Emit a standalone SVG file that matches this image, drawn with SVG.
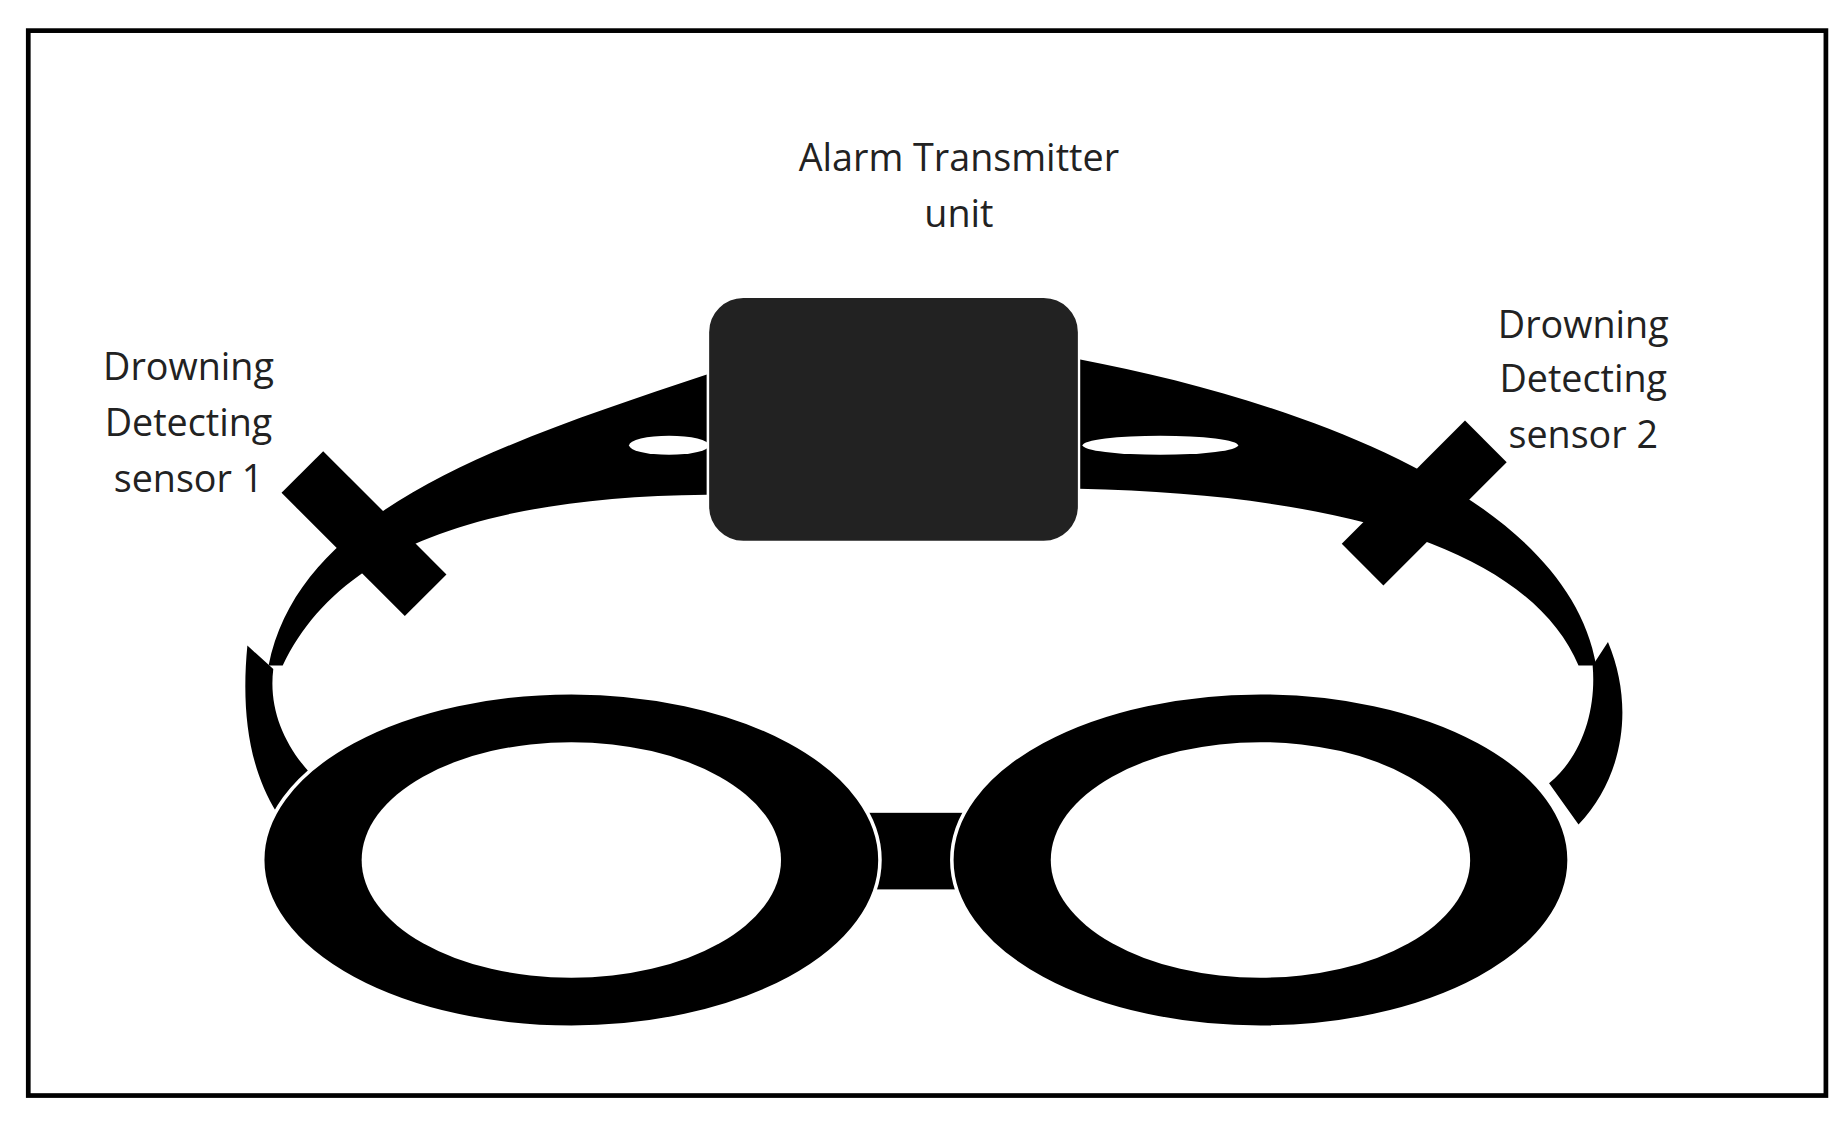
<svg xmlns="http://www.w3.org/2000/svg" width="1847" height="1127" viewBox="0 0 1847 1127">
<style>
.t{font-family:"Open Sans","Liberation Sans",sans-serif;font-size:32px;fill:#222;text-anchor:middle}
.b{fill:#000}
</style>
<rect width="1847" height="1127" fill="#fff"/>
<g transform="scale(1.178)">
<rect x="24" y="26" width="1526" height="904" fill="none" stroke="#000" stroke-width="4"/>
<g id="strap">
<path class="b" d="M600,318 C430,375 255,430 228,565 L240,565 C285,470 400,422 600,420 Z"/>
<path class="b" d="M210,548 C205,600 210,650 235,690 L262,655 C240,630 228,600 232,568 Z"/>
<path class="b" d="M916,305 C1100,340 1330,420 1355,565 L1340,565 C1300,470 1150,420 916,415 Z"/>
<path class="b" d="M1365,545 C1388,600 1378,660 1340,700 L1315,665 C1345,640 1355,600 1352,565 Z"/>
<ellipse cx="568" cy="378" rx="34" ry="8" fill="#fff"/>
<ellipse cx="985" cy="378" rx="66" ry="8" fill="#fff"/>
</g>
<g id="goggles">
<rect class="b" x="735" y="690" width="85" height="65"/>
<ellipse class="b" cx="485" cy="730" rx="262" ry="142" stroke="#fff" stroke-width="3"/>
<ellipse cx="485" cy="730" rx="178" ry="100" fill="#fff"/>
<ellipse class="b" cx="1070" cy="730" rx="262" ry="142" stroke="#fff" stroke-width="3"/>
<ellipse cx="1070" cy="730" rx="178" ry="100" fill="#fff"/>
</g>
<g id="transmitter">
<rect x="601" y="252" width="315" height="208" rx="30" fill="#222" stroke="#fff" stroke-width="2"/>
<text class="t" x="814" y="145">Alarm Transmitter</text>
<text class="t" x="814" y="193">unit</text>
</g>
<g id="sensor1">
<rect class="b" x="-74" y="-25" width="148" height="50" transform="translate(309,453) rotate(45)"/>
<text class="t" x="160" y="323">Drowning</text>
<text class="t" x="160" y="370">Detecting</text>
<text class="t" x="160" y="418">sensor 1</text>
</g>
<g id="sensor2">
<rect class="b" x="-74" y="-25" width="148" height="50" transform="translate(1209,427) rotate(-45)"/>
<text class="t" x="1344" y="287">Drowning</text>
<text class="t" x="1344" y="333">Detecting</text>
<text class="t" x="1344" y="380">sensor 2</text>
</g>
<g id="connectors"/>
</g>
</svg>
